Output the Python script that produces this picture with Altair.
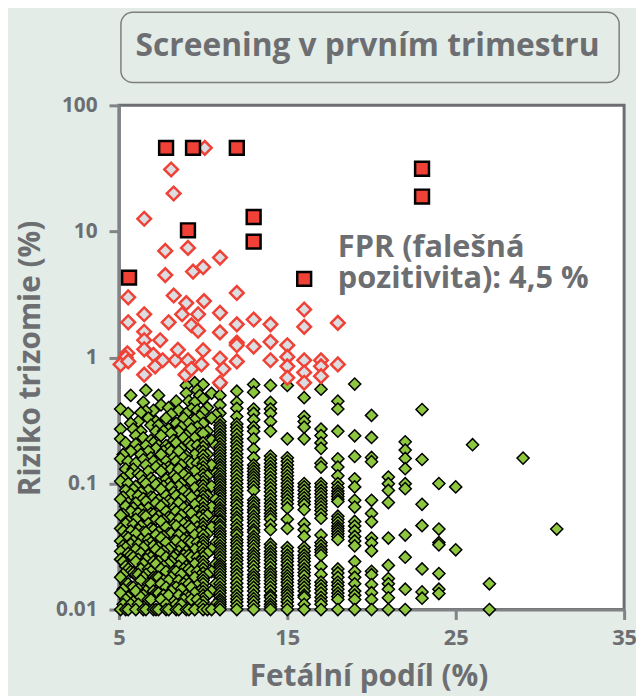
import altair as alt
import pandas as pd

BG = "#e3ece7"
GRAY = "#6d6e71"
AXIS_GRAY = "#808285"
GREEN = "#8dc63f"
RED = "#ef4136"
PINK_FILL = "#dcdde0"
FONT = "Open Sans"

# ---- screen-negative (green) points: fetal fraction -> risk values (%) ----
g_5_1 = [0.39, 0.27, 0.226, 0.157, 0.104, 0.075, 0.056, 0.044, 0.035, 0.029, 0.025, 0.018, 0.0135, 0.01]
g_5_25 = [0.17, 0.11, 0.078, 0.057, 0.042, 0.032, 0.024, 0.019, 0.0145, 0.011]
g_5_4 = [0.21, 0.13, 0.088, 0.066, 0.048, 0.038, 0.031, 0.022, 0.016, 0.012, 0.01]
g_5_55 = [0.36, 0.15, 0.1, 0.07, 0.05, 0.037, 0.028, 0.021, 0.016, 0.0125, 0.01]
g_5_7 = [0.50, 0.30, 0.18, 0.12, 0.082, 0.06, 0.042, 0.033, 0.027, 0.02, 0.015, 0.011]
g_5_85 = [0.27, 0.13, 0.09, 0.064, 0.047, 0.035, 0.026, 0.0195, 0.015, 0.0115]
g_6_0 = [0.24, 0.205, 0.145, 0.095, 0.07, 0.052, 0.04, 0.03, 0.024, 0.019, 0.014, 0.01]
g_6_15 = [0.31, 0.185, 0.12, 0.08, 0.058, 0.043, 0.033, 0.025, 0.019, 0.0145, 0.011]
g_6_3 = [0.365, 0.26, 0.17, 0.115, 0.085, 0.062, 0.046, 0.036, 0.028, 0.021, 0.017, 0.0125]
g_6_45 = [0.44, 0.23, 0.155, 0.105, 0.076, 0.056, 0.041, 0.031, 0.023, 0.018, 0.013, 0.01]
g_6_6 = [0.55, 0.375, 0.2, 0.14, 0.1, 0.072, 0.055, 0.041, 0.032, 0.025, 0.019, 0.014, 0.01]
g_6_75 = [0.33, 0.18, 0.125, 0.088, 0.064, 0.048, 0.036, 0.027, 0.021, 0.016, 0.012]
g_6_9 = [0.29, 0.22, 0.16, 0.11, 0.078, 0.058, 0.044, 0.034, 0.026, 0.02, 0.016, 0.012]
g_7_05 = [0.38, 0.21, 0.15, 0.105, 0.077, 0.057, 0.043, 0.032, 0.024, 0.018, 0.014, 0.01]
g_7_2 = [0.31, 0.26, 0.19, 0.135, 0.098, 0.07, 0.052, 0.039, 0.03, 0.023, 0.018, 0.0135, 0.01]
g_7_35 = [0.5, 0.29, 0.2, 0.14, 0.1, 0.074, 0.055, 0.041, 0.031, 0.024, 0.018, 0.0135, 0.01]
g_7_5 = [0.42, 0.24, 0.17, 0.125, 0.09, 0.066, 0.05, 0.037, 0.028, 0.021, 0.016, 0.012]
g_7_65 = [0.26, 0.18, 0.13, 0.095, 0.069, 0.051, 0.038, 0.029, 0.022, 0.017, 0.013]
g_7_8 = [0.33, 0.2, 0.15, 0.108, 0.08, 0.06, 0.045, 0.034, 0.026, 0.02, 0.015, 0.011, 0.01]
g_7_95 = [0.4, 0.27, 0.19, 0.135, 0.1, 0.073, 0.054, 0.04, 0.03, 0.023, 0.017, 0.013, 0.01]
g_8_1 = [0.354, 0.25, 0.18, 0.13, 0.094, 0.07, 0.053, 0.04, 0.031, 0.024, 0.018, 0.014]
g_8_25 = [0.22, 0.16, 0.115, 0.085, 0.063, 0.047, 0.035, 0.026, 0.02, 0.015, 0.0115]
g_8_4 = [0.45, 0.3, 0.21, 0.15, 0.11, 0.08, 0.06, 0.046, 0.035, 0.027, 0.02, 0.015, 0.011, 0.01]
g_8_55 = [0.38, 0.26, 0.18, 0.13, 0.095, 0.07, 0.052, 0.039, 0.029, 0.022, 0.017, 0.013, 0.01]
g_8_7 = [0.28, 0.19, 0.14, 0.1, 0.075, 0.056, 0.042, 0.032, 0.025, 0.019, 0.0145, 0.011]
g_8_85 = [0.33, 0.23, 0.16, 0.118, 0.087, 0.064, 0.048, 0.036, 0.027, 0.021, 0.016, 0.012]
g_9_0 = [0.60, 0.52, 0.36, 0.24, 0.165, 0.12, 0.088, 0.065, 0.049, 0.037, 0.029, 0.022, 0.017, 0.013, 0.01]
g_9_15 = [0.45, 0.3, 0.21, 0.15, 0.11, 0.082, 0.061, 0.046, 0.035, 0.027, 0.021, 0.016, 0.0125, 0.01]
g_9_3 = [0.39, 0.27, 0.2, 0.145, 0.105, 0.078, 0.058, 0.044, 0.034, 0.026, 0.02, 0.015, 0.012]
g_9_5 = [0.63, 0.44, 0.32, 0.23, 0.17, 0.125, 0.092, 0.068, 0.051, 0.039, 0.03, 0.023, 0.018, 0.0135, 0.01]
g_9_65 = [0.55, 0.38, 0.28, 0.2, 0.145, 0.108, 0.08, 0.06, 0.045, 0.034, 0.026, 0.02, 0.0155, 0.012]
g_9_8 = [0.5, 0.34, 0.25, 0.18, 0.13, 0.096, 0.072, 0.054, 0.041, 0.031, 0.024, 0.0185, 0.014, 0.011]
g_10 = [0.61, 0.47, 0.37, 0.3, 0.25, 0.21, 0.18, 0.155, 0.135, 0.118, 0.103, 0.09, 0.079, 0.069, 0.06,
        0.052, 0.045, 0.039, 0.034, 0.03, 0.026, 0.0225, 0.0195, 0.017, 0.0148, 0.013, 0.0115, 0.01]
g_10b = [0.195, 0.167, 0.145, 0.126, 0.11, 0.096, 0.084, 0.074, 0.064, 0.056, 0.048, 0.042, 0.036,
         0.032, 0.028, 0.024, 0.021, 0.018, 0.016, 0.0139, 0.0122, 0.0107]
g_10_25 = [0.4, 0.26, 0.17, 0.115, 0.08, 0.056, 0.04, 0.028, 0.019, 0.013, 0.01]
g_10_5 = [0.52, 0.33, 0.22, 0.14, 0.095, 0.065, 0.045, 0.03, 0.02, 0.014, 0.01]
g_10_75 = [0.35, 0.2, 0.12, 0.075, 0.05, 0.034, 0.023, 0.016, 0.011]
g_11 = [0.61, 0.50, 0.42, 0.36, 0.31, 0.275, 0.245, 0.22, 0.195, 0.175, 0.157, 0.141, 0.127, 0.114, 0.103,
        0.093, 0.084, 0.076, 0.068, 0.061, 0.055, 0.05, 0.045, 0.04, 0.036, 0.032, 0.029, 0.026, 0.023,
        0.021, 0.019, 0.017, 0.015, 0.0135, 0.012, 0.011, 0.01]
g_11b = [0.29, 0.26, 0.232, 0.207, 0.185, 0.166, 0.149, 0.134, 0.12, 0.108, 0.098, 0.088, 0.08, 0.072,
         0.064, 0.058, 0.052, 0.047, 0.042, 0.038, 0.034, 0.0305, 0.0275, 0.0245, 0.022, 0.02, 0.018,
         0.016, 0.0142, 0.0127, 0.0115, 0.0105]
g_12 = [0.54, 0.44, 0.395, 0.34, 0.297, 0.262, 0.226, 0.198, 0.172, 0.15, 0.131, 0.115, 0.1, 0.087, 0.076,
        0.067, 0.058, 0.051, 0.044, 0.039, 0.034, 0.03, 0.026, 0.023, 0.02, 0.0175, 0.015, 0.013, 0.0115, 0.01]
g_12b = [0.28, 0.244, 0.212, 0.185, 0.161, 0.14, 0.123, 0.107, 0.093, 0.081, 0.071, 0.062, 0.054, 0.047,
         0.041, 0.036, 0.032, 0.028, 0.0245, 0.0215, 0.0188, 0.0162, 0.014, 0.0122, 0.0107]
g_13 = [0.61, 0.53, 0.39, 0.36, 0.32, 0.28, 0.26, 0.226, 0.188, 0.16, 0.14, 0.125, 0.112, 0.1, 0.088, 0.074,
        0.066, 0.059, 0.052, 0.046, 0.041, 0.036, 0.032, 0.028, 0.025, 0.022, 0.019, 0.017, 0.015, 0.013, 0.0115, 0.01]
g_13b = [0.132, 0.118, 0.106, 0.094, 0.07, 0.062, 0.055, 0.049, 0.043, 0.038, 0.034, 0.03, 0.0265,
         0.0235, 0.0205, 0.018, 0.016, 0.014, 0.0122, 0.0107]
g_14 = [0.60, 0.44, 0.39, 0.36, 0.31, 0.26, 0.165, 0.145, 0.128, 0.112, 0.098, 0.086, 0.075, 0.066, 0.058,
        0.052, 0.047, 0.043, 0.033, 0.029, 0.026, 0.023, 0.02, 0.018, 0.016, 0.014, 0.0125, 0.011, 0.01]
g_14b = [0.155, 0.136, 0.12, 0.105, 0.092, 0.08, 0.07, 0.062, 0.055, 0.031, 0.0275, 0.0245, 0.0215,
         0.019, 0.017, 0.015, 0.013, 0.0117, 0.0105]
g_15 = [0.60, 0.226, 0.16, 0.14, 0.123, 0.108, 0.095, 0.084, 0.074, 0.064, 0.052, 0.044, 0.031, 0.027,
        0.024, 0.021, 0.0185, 0.0165, 0.0145, 0.013, 0.0115, 0.01]
g_15b = [0.15, 0.131, 0.115, 0.101, 0.089, 0.079, 0.069, 0.029, 0.0255, 0.0225, 0.0197, 0.0175,
         0.0155, 0.0137, 0.0122, 0.0107]
g_16 = [0.48, 0.34, 0.31, 0.28, 0.226, 0.10, 0.088, 0.077, 0.068, 0.062, 0.048, 0.043, 0.038, 0.031, 0.027,
        0.024, 0.021, 0.0185, 0.016, 0.014, 0.0125, 0.011, 0.01]
g_16b = [0.094, 0.082, 0.072, 0.029, 0.0255, 0.0225, 0.0197, 0.017, 0.015, 0.013]
g_17 = [0.56, 0.27, 0.24, 0.21, 0.19, 0.145, 0.135, 0.10, 0.088, 0.078, 0.069, 0.061, 0.053, 0.039, 0.034,
        0.03, 0.027, 0.022, 0.019, 0.0165, 0.0145, 0.0125, 0.011, 0.01]
g_17b = [0.094, 0.083, 0.073, 0.065, 0.057, 0.032, 0.0285, 0.0155, 0.0135, 0.0117]
g_18 = [0.45, 0.39, 0.26, 0.157, 0.135, 0.115, 0.10, 0.087, 0.079, 0.072, 0.055, 0.049, 0.044, 0.04, 0.036,
        0.021, 0.018, 0.0155, 0.0135, 0.012, 0.01]
g_18b = [0.093, 0.083, 0.075, 0.052, 0.046, 0.042, 0.038, 0.0195, 0.0165, 0.0145, 0.0127]
g_19 = [0.615, 0.239, 0.164, 0.109, 0.094, 0.0736, 0.065, 0.05, 0.046, 0.042, 0.038, 0.035, 0.032, 0.024,
        0.02, 0.018, 0.016, 0.014, 0.013, 0.012, 0.01]
g_20 = [0.347, 0.232, 0.161, 0.149, 0.0736, 0.0578, 0.0497, 0.0369, 0.0337, 0.0292, 0.0201, 0.0189, 0.0158,
        0.0136, 0.012, 0.01]
g_21 = [0.1125, 0.0996, 0.088, 0.0706, 0.0369, 0.0224, 0.0176, 0.016, 0.0145, 0.0124, 0.01]
g_22 = [0.214, 0.184, 0.158, 0.131, 0.0996, 0.091, 0.039, 0.026, 0.0145, 0.01]
g_23 = [0.386, 0.155, 0.0684, 0.0463, 0.021, 0.0138, 0.0123]
g_24 = [0.10, 0.0435, 0.034, 0.0326, 0.0193, 0.0145, 0.0134]
g_25 = [0.094, 0.0298]
g_26 = [0.203]
g_27 = [0.016, 0.01]
g_29 = [0.159]
g_31 = [0.0435]

green_columns = [
    (5.1, g_5_1), (5.25, g_5_25), (5.4, g_5_4), (5.55, g_5_55), (5.7, g_5_7), (5.85, g_5_85),
    (6.0, g_6_0), (6.15, g_6_15), (6.3, g_6_3), (6.45, g_6_45), (6.6, g_6_6), (6.75, g_6_75),
    (6.9, g_6_9), (7.05, g_7_05), (7.2, g_7_2), (7.35, g_7_35), (7.5, g_7_5), (7.65, g_7_65),
    (7.8, g_7_8), (7.95, g_7_95), (8.1, g_8_1), (8.25, g_8_25), (8.4, g_8_4), (8.55, g_8_55),
    (8.7, g_8_7), (8.85, g_8_85), (9.0, g_9_0), (9.15, g_9_15), (9.3, g_9_3), (9.5, g_9_5),
    (9.65, g_9_65), (9.8, g_9_8), (10.0, g_10), (10.0, g_10b), (10.25, g_10_25), (10.5, g_10_5),
    (10.75, g_10_75), (11, g_11), (11, g_11b), (12, g_12), (12, g_12b), (13, g_13), (13, g_13b),
    (14, g_14), (14, g_14b), (15, g_15), (15, g_15b), (16, g_16), (16, g_16b), (17, g_17),
    (17, g_17b), (18, g_18), (18, g_18b), (19, g_19), (20, g_20), (21, g_21), (22, g_22),
    (23, g_23), (24, g_24), (25, g_25), (26, g_26), (27, g_27), (29, g_29), (31, g_31),
]

# ---- false positives (pink diamonds) ----
pink_x = [10.1, 8.1, 8.25, 6.5, 7.75, 9.1, 11, 7.75, 9.4, 10, 12, 5.55, 8.25, 9.0, 10.05, 16,
          5.55, 6.5, 7.95, 8.75, 9.3, 9.7, 11, 12, 13, 14, 16, 18, 11, 6.5, 7.45, 6.5, 9.7,
          12, 13, 14, 15, 15, 16, 17, 5.5, 6.5, 7.05, 8.35, 9.1, 10, 11, 5.4, 5.1, 5.55,
          7.15, 6.5, 8.95, 9.3, 9.9, 11.2, 11, 12, 12, 14, 15, 15, 16, 16, 17, 17, 18, 8.5, 7.6]
pink_y = [46, 31, 20, 12.6, 7.0, 7.4, 6.2, 4.5, 4.8, 5.2, 3.25, 3.0, 3.1, 2.7, 2.8, 2.4,
          1.9, 2.2, 1.9, 2.2, 1.8, 2.2, 2.26, 1.83, 2.0, 1.83, 1.75, 1.88, 1.58, 1.6, 1.37, 1.37, 1.63,
          1.31, 1.22, 1.33, 1.25, 1.01, 0.95, 0.95, 1.08, 1.16, 1.05, 0.95, 0.95, 1.14, 0.98, 1.0, 0.88, 0.93,
          0.85, 0.73, 0.73, 0.81, 0.88, 0.81, 0.63, 1.25, 0.93, 0.95, 0.85, 0.69, 0.76, 0.63, 0.85, 0.71, 0.88, 1.15, 0.95]

# ---- true positives (red squares) ----
red_x = [7.8, 9.4, 12, 13, 13, 9.1, 5.6, 16, 23, 23]
red_y = [46, 46, 46, 13, 8.3, 10.2, 4.3, 4.2, 31.4, 18.9]

x_ticks = [5, 15, 25, 35]
y_ticks = [0.01, 0.1, 1, 10, 100]

rows = []
for fx, ys in green_columns:
    for v in ys:
        rows.append({"x": fx, "y": v})
green_df = pd.DataFrame(rows).sort_values("y", ascending=False, kind="stable").reset_index(drop=True)
pink_df = pd.DataFrame({"x": pink_x, "y": pink_y})
red_df = pd.DataFrame({"x": red_x, "y": red_y})
one = pd.DataFrame({"k": [0]})

x_enc = alt.X("x:Q", scale=alt.Scale(domain=[5, 35], nice=False, zero=False),
              axis=alt.Axis(values=x_ticks, title="Fetální podíl (%)", grid=False,
                            domainColor=AXIS_GRAY, domainWidth=3, tickColor=AXIS_GRAY,
                            tickWidth=3, tickSize=10, labelFont=FONT, labelFontSize=22,
                            labelFontWeight="bold", labelColor=GRAY, labelPadding=8,
                            labelFlush=False, titleFont=FONT, titleFontSize=30,
                            titleFontWeight="bold", titleColor=GRAY, titleX=252, titleY=77,
                            titleAlign="center", titleBaseline="alphabetic"))
y_enc = alt.Y("y:Q", scale=alt.Scale(type="log", domain=[0.01, 100], nice=False),
              axis=alt.Axis(values=y_ticks, format=".2~f", title="Riziko trizomie (%)", grid=False,
                            domainColor=AXIS_GRAY, domainWidth=3, tickColor=AXIS_GRAY,
                            tickWidth=3, tickSize=10, labelFont=FONT, labelFontSize=21,
                            labelFontWeight="bold", labelColor=GRAY, labelPadding=12,
                            labelFlush=False, titleFont=FONT, titleFontSize=30,
                            titleFontWeight="bold", titleColor=GRAY, titleAngle=270,
                            titleX=-80, titleY=255, titleAlign="center",
                            titleBaseline="alphabetic"))

green = alt.Chart(green_df).mark_point(shape="diamond", filled=True, fill=GREEN, stroke="black",
                                       strokeWidth=1.5, size=150, opacity=1).encode(x=x_enc, y=y_enc)
pink = alt.Chart(pink_df).mark_point(shape="diamond", filled=True, fill=PINK_FILL, stroke=RED,
                                     strokeWidth=2.5, size=190, opacity=1).encode(x=x_enc, y=y_enc)
red = alt.Chart(red_df).mark_point(shape="square", filled=True, fill=RED, stroke="black",
                                   strokeWidth=2.5, size=196, opacity=1).encode(x=x_enc, y=y_enc)

fpr1 = alt.Chart(one).mark_text(text="FPR (falešná", align="left", baseline="alphabetic",
                                font=FONT, fontSize=31, fontWeight="bold",
                                color=GRAY).encode(x=alt.value(221), y=alt.value(153))
fpr2 = alt.Chart(one).mark_text(text="pozitivita): 4,5 %", align="left", baseline="alphabetic",
                                font=FONT, fontSize=31, fontWeight="bold",
                                color=GRAY).encode(x=alt.value(221), y=alt.value(184))

title_box = alt.Chart(one).mark_rect(cornerRadius=12, fill=BG, stroke="#7d7e80",
                                     strokeWidth=1.5).encode(x=alt.value(2), x2=alt.value(505),
                                                             y=alt.value(-94), y2=alt.value(-23))
title_text = alt.Chart(one).mark_text(text="Screening v prvním trimestru", align="center",
                                      baseline="alphabetic", font=FONT, fontSize=32,
                                      fontWeight="bold", color=GRAY).encode(x=alt.value(251), y=alt.value(-50))

chart = alt.layer(green, pink, red, fpr1, fpr2, title_box, title_text).properties(
    width=510, height=509,
    padding={"left": 112, "top": 95, "right": 12, "bottom": 84},
    autosize=alt.AutoSizeParams(type="none"),
).configure(background=BG).configure_view(stroke=GRAY, strokeWidth=3, fill="white")

chart.save("out.html", embed_options={"renderer": "svg", "actions": False})
